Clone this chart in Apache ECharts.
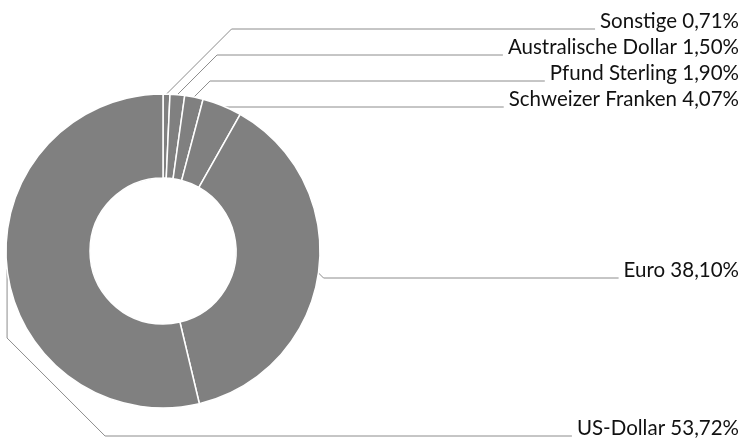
<!DOCTYPE html>
<html>
<head>
<meta charset="utf-8">
<script src="https://cdn.jsdelivr.net/npm/echarts@6/dist/echarts.min.js"></script>
<style>
html,body{margin:0;padding:0;background:#fff;}
#chart{width:742px;height:438px;}
</style>
</head>
<body>
<div id="chart"></div>
<script>
const categories = ['Sonstige', 'Australische Dollar', 'Pfund Sterling', 'Schweizer Franken', 'Euro', 'US-Dollar'];
const shares = [0.71, 1.50, 1.90, 4.07, 38.10, 53.72];

// label placement (layout, not data)
const labelRight = 739;
const labelLineYs = [29, 55, 81, 107, 278, 436];
const bottomDiagonal = 98;

const chart = echarts.init(document.getElementById('chart'), null, {renderer: 'canvas'});
chart.setOption({
  animation: false,
  textStyle: {fontFamily: 'Lato'},
  series: [{
    type: 'pie',
    center: [163, 251],
    radius: [73, 157],
    startAngle: 90,
    clockwise: true,
    avoidLabelOverlap: false,
    data: categories.map((c, i) => ({name: c, value: shares[i]})),
    itemStyle: {color: '#808080', borderColor: '#fff', borderWidth: 1.5},
    emphasis: {disabled: true},
    label: {
      show: true,
      position: 'outer',
      fontFamily: 'Lato',
      fontSize: 20.5,
      color: '#111',
      formatter: p => p.name + ' ' + p.value.toFixed(2).replace('.', ',') + '%'
    },
    labelLine: {show: true, length: 10, length2: 10, lineStyle: {color: '#8c8c8c', width: 1}}
  }],
  });

chart.setOption({
  series: [{
    labelLayout: function (params) {
      const i = params.dataIndex;
      const ly = labelLineYs[i];
      const start = params.labelLinePoints[0];
      const endX = labelRight - params.labelRect.width - 5;
      let pts;
      if (i === categories.length - 1) {
        pts = [start, [start[0], ly - bottomDiagonal], [start[0] + bottomDiagonal, ly], [endX, ly]];
      } else {
        const d = Math.abs(ly - start[1]);
        pts = [start, [start[0] + d, ly], [endX, ly]];
      }
      return {
        x: labelRight,
        y: ly - 8,
        align: 'right',
        verticalAlign: 'middle',
        labelLinePoints: pts
      };
    }
  }]
});
</script>
</body>
</html>
